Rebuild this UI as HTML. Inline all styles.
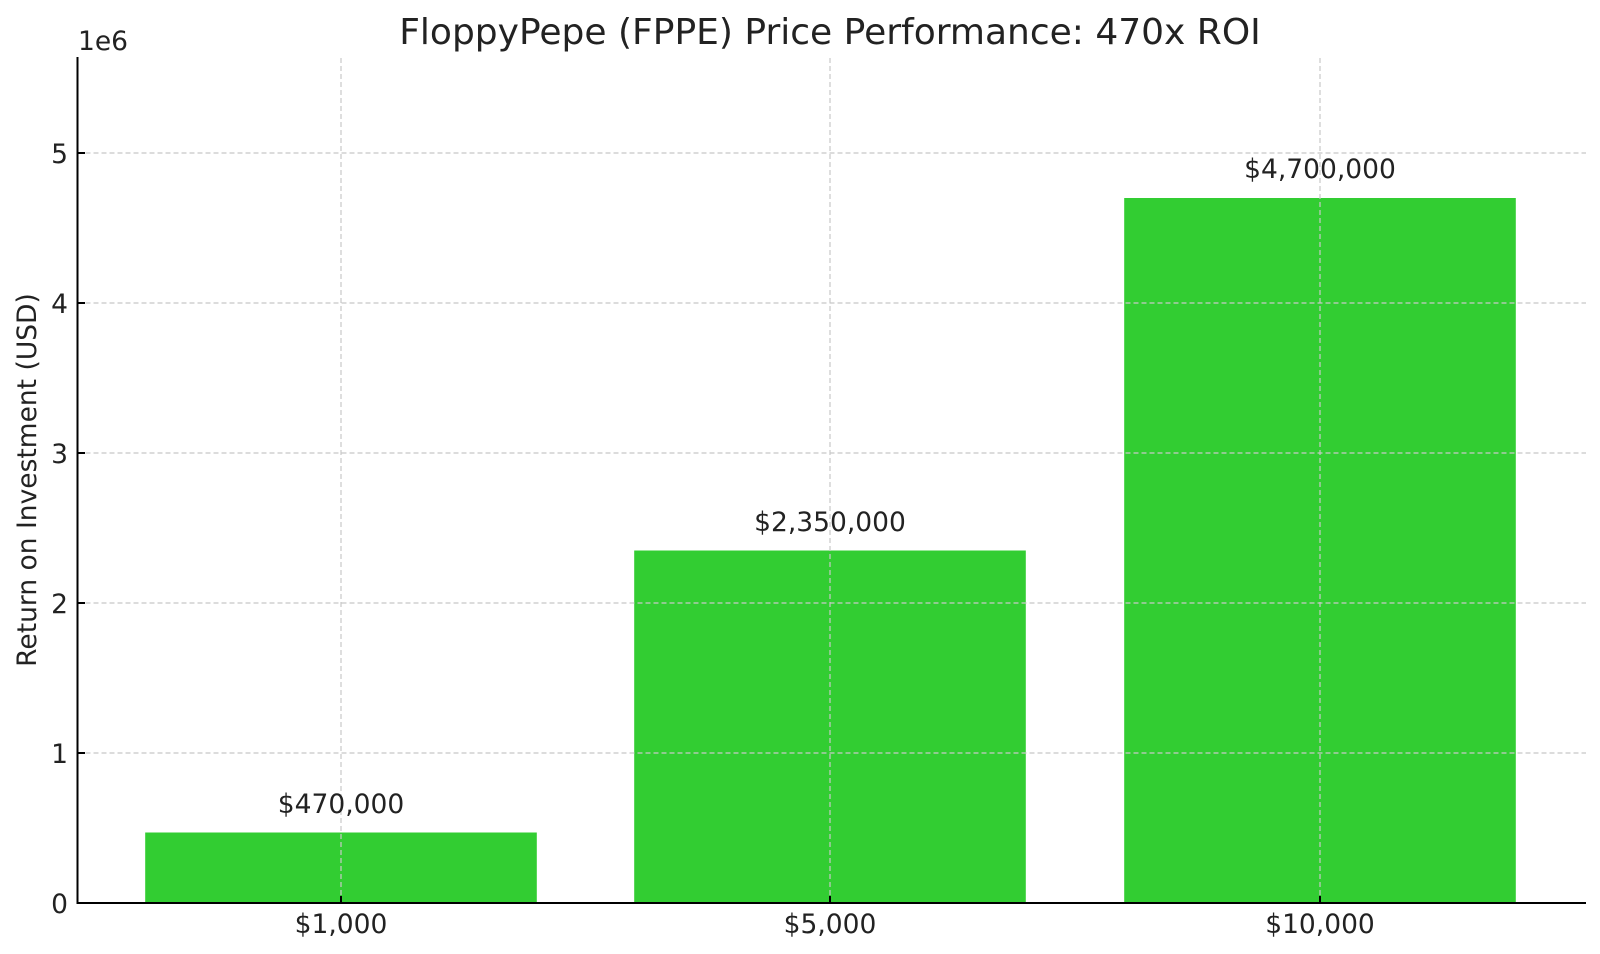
<!DOCTYPE html>
<html><head><meta charset="utf-8"><style>html,body{margin:0;padding:0;background:#fff}svg{display:block}</style></head>
<body>
<svg width="1600" height="954" viewBox="0 0 1600 954" xmlns="http://www.w3.org/2000/svg" font-family="DejaVu Sans, Liberation Sans, sans-serif">
<rect width="1600" height="954" fill="#fff"/>
<rect x="145.2" y="832.5" width="391.6" height="70.5" fill="#32cd32"/>
<rect x="634.2" y="550.5" width="391.6" height="352.5" fill="#32cd32"/>
<rect x="1124.2" y="198" width="391.6" height="705" fill="#32cd32"/>
<g stroke="#c8c8c8" stroke-width="1.2" stroke-dasharray="5,3">
<line x1="77.5" x2="1586" y1="753" y2="753"/>
<line x1="77.5" x2="1586" y1="603" y2="603"/>
<line x1="77.5" x2="1586" y1="453" y2="453"/>
<line x1="77.5" x2="1586" y1="303" y2="303"/>
<line x1="77.5" x2="1586" y1="153" y2="153"/>
<line x1="341" x2="341" y1="58" y2="903"/>
<line x1="830" x2="830" y1="58" y2="903"/>
<line x1="1320" x2="1320" y1="58" y2="903"/>
</g>
<g stroke="#000" stroke-width="2">
<line x1="77.5" x2="77.5" y1="57" y2="904"/>
<line x1="76.5" x2="1586" y1="903" y2="903"/>
<line x1="77.5" x2="85" y1="753" y2="753"/>
<line x1="77.5" x2="85" y1="603" y2="603"/>
<line x1="77.5" x2="85" y1="453" y2="453"/>
<line x1="77.5" x2="85" y1="303" y2="303"/>
<line x1="77.5" x2="85" y1="153" y2="153"/>
<line x1="341" x2="341" y1="903" y2="896"/>
<line x1="830" x2="830" y1="903" y2="896"/>
<line x1="1320" x2="1320" y1="903" y2="896"/>
</g>
<g font-size="26.5" fill="#222">
<g text-anchor="end">
<text x="68" y="913">0</text>
<text x="68" y="763">1</text>
<text x="68" y="613">2</text>
<text x="68" y="463">3</text>
<text x="68" y="313">4</text>
<text x="68" y="163">5</text>
</g>
<text x="78" y="50">1e6</text>
<g text-anchor="middle">
<text x="341" y="933">$1,000</text>
<text x="830" y="933">$5,000</text>
<text x="1320" y="933">$10,000</text>
<text x="341" y="813">$470,000</text>
<text x="830" y="531">$2,350,000</text>
<text x="1320" y="178">$4,700,000</text>
<text transform="translate(36,480) rotate(-90)">Return on Investment (USD)</text>
</g>
</g>
<text x="830" y="44" font-size="36" fill="#222" text-anchor="middle">FloppyPepe (FPPE) Price Performance: 470x ROI</text>
</svg>
</body></html>
